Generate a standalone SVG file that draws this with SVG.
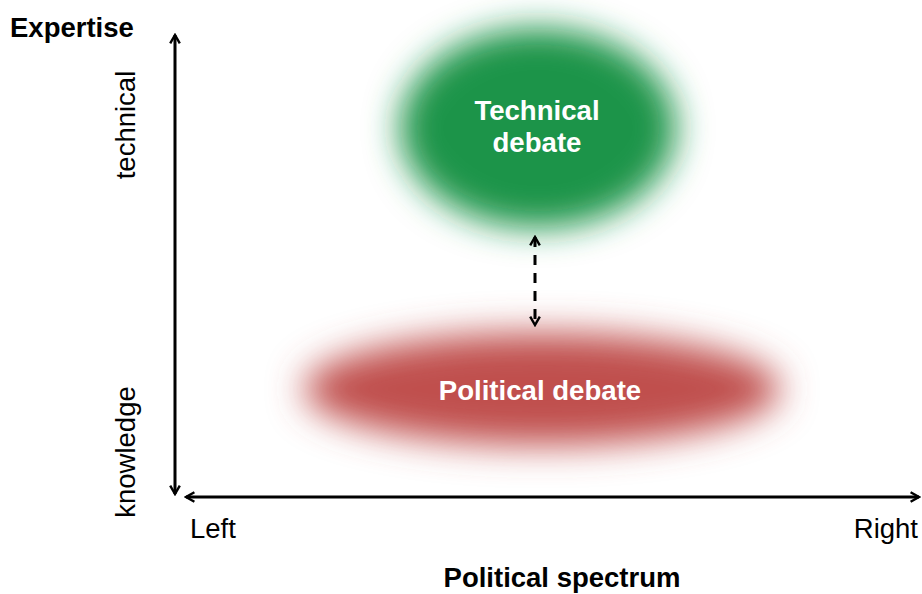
<svg xmlns="http://www.w3.org/2000/svg" width="922" height="594" viewBox="0 0 922 594">
<style>
.lbl{font-family:"Liberation Sans",Arial,sans-serif;font-size:27.5px;fill:#000}
.b{font-weight:bold}
.in{font-family:"Liberation Sans",Arial,sans-serif;font-size:27.6px;font-weight:bold;fill:#fff;text-anchor:middle}
.axis{stroke:#000;stroke-width:3;fill:none}
</style>
<defs>
<marker id="ah" viewBox="0 0 10 10" refX="8" refY="5" markerWidth="4" markerHeight="4" orient="auto-start-reverse" markerUnits="strokeWidth">
<path d="M1,1 L8,5 L1,9" fill="none" stroke="#000" stroke-width="2"/>
</marker>
<filter id="blurG" x="-40%" y="-40%" width="180%" height="180%"><feGaussianBlur stdDeviation="17"/></filter>
<filter id="blurR" x="-30%" y="-80%" width="160%" height="260%"><feGaussianBlur stdDeviation="18"/></filter>
</defs>
<rect width="922" height="594" fill="#fff"/>
<g id="technical-debate">
<ellipse cx="538" cy="128" rx="138" ry="100" fill="#1a9449" filter="url(#blurG)"/>
<text class="in" x="537" y="120">Technical</text>
<text class="in" x="537" y="152">debate</text>
</g>
<g id="political-debate">
<ellipse cx="542" cy="389" rx="238" ry="56" fill="#c0504d" filter="url(#blurR)"/>
<text class="in" x="540" y="400">Political debate</text>
</g>
<g id="connectors">
<line class="axis" x1="175" y1="35" x2="175" y2="494" marker-start="url(#ah)" marker-end="url(#ah)"/>
<line class="axis" x1="186" y1="497" x2="919" y2="497" marker-start="url(#ah)" marker-end="url(#ah)"/>
<line x1="535" y1="237" x2="535" y2="325" stroke="#000" stroke-width="3" stroke-dasharray="10,8" marker-start="url(#ah)" marker-end="url(#ah)"/>
</g>
<g id="labels">
<text class="lbl b" x="10" y="37">Expertise</text>
<text class="lbl" transform="translate(135,125) rotate(-90)" text-anchor="middle">technical</text>
<text class="lbl" transform="translate(135,452) rotate(-90)" text-anchor="middle">knowledge</text>
<text class="lbl" x="190" y="538">Left</text>
<text class="lbl" x="918" y="538" text-anchor="end">Right</text>
<text class="lbl b" x="562" y="587" text-anchor="middle">Political spectrum</text>
</g>
</svg>
